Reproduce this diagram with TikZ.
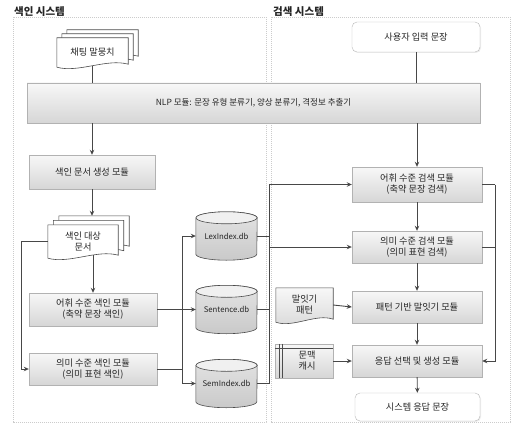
\documentclass[tikz,border=0pt]{standalone}
\usepackage{fontspec}
\setmainfont{Noto Sans CJK KR}
\usetikzlibrary{arrows.meta,calc,backgrounds,shadows}
% document shape: #1 node, #2 xshift, #3 yshift, #4 style
\newcommand\docshape[4]{%
  \path[#4] ($(#1.north west)+(#2,#3)$) -- ($(#1.north east)+(#2,#3)$)
    -- ($(#1.south east)+(#2,#3)+(0,3pt)$)
    .. controls ($(#1.south west)!0.7!(#1.south east)+(#2,#3)+(0,9pt)$)
    and ($(#1.south west)!0.3!(#1.south east)+(#2,#3)+(0,-6pt)$)
    .. ($(#1.south west)+(#2,#3)$) -- cycle;}
% database cylinder drawn round node #1
\newcommand\dbshape[1]{%
  \path[dbbody] ($(#1.north west)+(0,-6pt)$) -- ($(#1.south west)+(0,6pt)$)
    arc[start angle=180,end angle=360,x radius=30.5pt,y radius=6pt]
    -- ($(#1.north east)+(0,-6pt)$)
    arc[start angle=0,end angle=180,x radius=30.5pt,y radius=6pt] -- cycle;
  \path[dbtop] ($(#1.north)+(0,-6pt)$) ellipse[x radius=30.5pt,y radius=6pt];}
\begin{document}
\begin{tikzpicture}[x=1pt,y=-1pt,
  font=\fontsize{9.2}{11}\selectfont,
  proc/.style={draw=gray!60, top color=gray!6, bottom color=gray!32,
    drop shadow={opacity=0.25,shadow xshift=1.2pt,shadow yshift=-1.2pt},
    align=center, inner sep=1pt, text=black!85},
  term/.style={draw=gray!55, rounded corners=5pt, fill=white,
    drop shadow={opacity=0.15,shadow xshift=1pt,shadow yshift=-1pt},
    align=center, inner sep=1pt, text=black!85},
  txt/.style={align=center, inner sep=0pt, text=black!85},
  db/.style={minimum width=61pt, minimum height=48pt, inner sep=0pt,
    font=\fontsize{7.8}{9}\selectfont, text=black!85},
  dbbody/.style={draw=gray!60!black, line width=0.6pt, top color=gray!22, bottom color=gray!42},
  dbtop/.style={draw=gray!60!black, line width=0.6pt, fill=gray!12},
  docw/.style={draw=gray!60!black, line width=0.6pt, fill=white},
  docg/.style={draw=gray!60!black, line width=0.6pt, top color=gray!6, bottom color=gray!30},
  ln/.style={draw=black!72, line width=0.9pt},
  arr/.style={ln, -{Stealth[length=5pt,width=4.5pt]}},
  panel/.style={draw=gray!40, line width=0.9pt, dash pattern=on 1.2pt off 0.8pt},
  ttl/.style={anchor=west, inner sep=0pt, font=\fontsize{10.5}{12}\selectfont\bfseries, text=black!85},
]
\useasboundingbox (0,0) rectangle (513,425);

% titles
\node[ttl] (t1) at (14,12) {색인 시스템};
\node[ttl] (t2) at (273,12) {검색 시스템};

% nodes
\node[proc, minimum width=453pt, minimum height=40pt, font=\fontsize{8.5}{10}\selectfont] (nlp) at (253.5,103)
  {NLP 모듈: 문장 유형 분류기, 양상 분류기, 격정보 추출기};
\node[term, minimum width=128pt, minimum height=30pt] (user) at (416,37) {사용자 입력 문장};
\node[txt, minimum width=71pt, minimum height=29pt] (chat) at (92.5,52.5) {채팅 말뭉치};
\node[proc, minimum width=126pt, minimum height=34pt] (gen) at (92,172) {색인 문서 생성 모듈};
\node[txt, minimum width=70pt, minimum height=33pt] (idxdoc) at (83,241.5) {색인 대상\\문서};
\node[proc, minimum width=128pt, minimum height=33pt] (lexidx) at (93,309.5)
  {어휘 수준 색인 모듈\\(축약 문장 색인)};
\node[proc, minimum width=128pt, minimum height=32pt] (semidx) at (93,369)
  {의미 수준 색인 모듈\\(의미 표현 색인)};
\node[db] (lexdb) at (226.5,236) {\raisebox{-3pt}{LexIndex.db}};
\node[db] (sentdb) at (226.5,309.5) {\raisebox{-3pt}{Sentence.db}};
\node[db] (semdb) at (226.5,383.5) {\raisebox{-3pt}{SemIndex.db}};
\node[proc, minimum width=130pt, minimum height=35pt] (lexsrch) at (417,184.5)
  {어휘 수준 검색 모듈\\(축약 문장 검색)};
\node[proc, minimum width=130pt, minimum height=32pt] (semsrch) at (417,247)
  {의미 수준 검색 모듈\\(의미 표현 검색)};
\node[proc, minimum width=130pt, minimum height=32pt] (pattern) at (417,307) {패턴 기반 말잇기 모듈};
\node[proc, minimum width=130pt, minimum height=32pt] (resp) at (417,361) {응답 선택 및 생성 모듈};
\node[term, minimum width=125pt, minimum height=28pt] (sysout) at (417.5,407) {시스템 응답 문장};
\node[txt, minimum width=57pt, minimum height=34pt] (pat) at (304.5,305) {말잇기\\패턴};
\node[proc, minimum width=58pt, minimum height=34pt] (cache) at (304,361) {\hspace*{6pt}문맥\\\hspace*{6pt}캐시};
\draw[draw=gray!60!black, line width=0.5pt] ($(cache.north west)+(4pt,0)$) -- ($(cache.south west)+(4pt,0)$);
\draw[draw=gray!60!black, line width=0.5pt] ($(cache.north west)+(7pt,0)$) -- ($(cache.south west)+(7pt,0)$);
\draw[draw=gray!60!black, line width=0.5pt] ($(cache.north west)+(0,-4pt)$) -- ($(cache.north east)+(0,-4pt)$);

% background shapes
\begin{scope}[on background layer]
  \draw[panel] (13,17) rectangle (266,422);
  \draw[panel] (271,17) rectangle (510,422);
  \docshape{chat}{10pt}{8pt}{docw}
  \docshape{chat}{5pt}{4pt}{docw}
  \docshape{chat}{0pt}{0pt}{docw}
  \docshape{idxdoc}{11pt}{9pt}{docw}
  \docshape{idxdoc}{5.5pt}{4.5pt}{docw}
  \docshape{idxdoc}{0pt}{0pt}{docw}
  \docshape{pat}{0pt}{0pt}{docg}
  \dbshape{lexdb}
  \dbshape{sentdb}
  \dbshape{semdb}
\end{scope}

% connectors: top
\draw[ln] ($(chat.south)+(0,1.5pt)$) -- (chat.south |- nlp.north);
\draw[ln] (user.south) -- (user.south |- nlp.north);
\draw[arr] (nlp.south -| gen.north) -- (gen.north);
\draw[arr] (nlp.south -| lexsrch.north) -- (lexsrch.north);

% indexing side
\coordinate (idxtop) at ($(idxdoc.north)+(0,9pt)$);
\draw[arr] (gen.south) -- (gen.south |- idxtop);
\draw[arr] ($(lexidx.north |- idxdoc.south)+(0,3pt)$) -- (lexidx.north);
\draw[arr] (idxdoc.west) -| ($(semidx.west)+(-7pt,0)$) -- (semidx.west);
\draw[arr] (lexidx.east) -- (sentdb.west);
\coordinate (jl) at (182,369);
\draw[ln] (semidx.east) -- (jl);
\draw[arr] (jl) |- (lexdb.west);
\draw[arr] (jl) |- (semdb.west);

% db bus
\coordinate (bt) at (269,184.5);
\coordinate (bb) at (269,383.5);
\draw[ln] (lexdb.east) -- (lexdb.east -| bt);
\draw[ln] (sentdb.east) -- (sentdb.east -| bt);
\draw[ln] (semdb.east) -- (semdb.east -| bt);
\draw[ln] (bt) -- (bb);
\draw[arr] (bt) -- (lexsrch.west);
\draw[arr] (semsrch.west -| bt) -- (semsrch.west);

% search side
\draw[arr] (lexsrch) -- (semsrch);
\draw[arr] (semsrch) -- (pattern);
\draw[arr] (pattern) -- (resp);
\draw[arr] (resp) -- (sysout);
\draw[arr] (pat.east) -- (pattern.west);
\draw[arr] (cache.east) -- (resp.west);
\coordinate (rb) at (495,184.5);
\draw[ln] (lexsrch.east) -- (rb);
\draw[ln] (semsrch.east) -- (semsrch.east -| rb);
\draw[arr] (rb) |- (resp.east);
\end{tikzpicture}
\end{document}
